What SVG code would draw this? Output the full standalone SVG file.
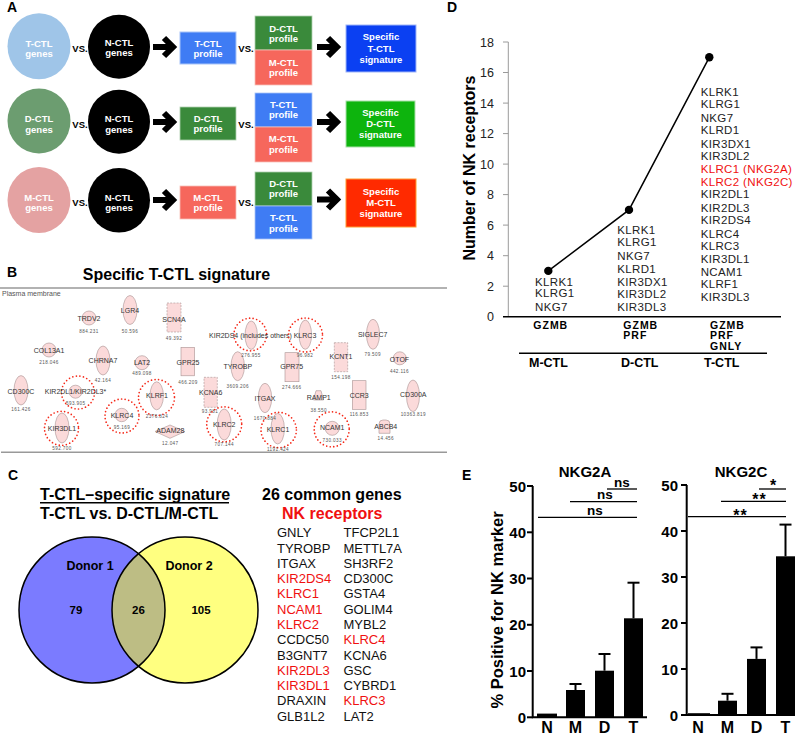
<svg xmlns="http://www.w3.org/2000/svg" width="800" height="737" viewBox="0 0 800 737">
<style>
text{font-family:"Liberation Sans",Arial,sans-serif}
.pl{font-weight:bold;font-size:14px;fill:#000}
.wt{fill:#fff;font-weight:bold;font-size:9.5px;text-anchor:middle}
.vs{font-weight:bold;font-size:9.5px;text-anchor:middle;fill:#000}
.arr{fill:none;stroke:#000;stroke-width:6;stroke-linejoin:miter}
.nd{fill:#fbdada;stroke:#a89292;stroke-width:0.6}
.ndd{fill:#fbdada;stroke:#a89292;stroke-width:0.6;stroke-dasharray:2 1.2}
.ring{fill:none;stroke:#f52a1a;stroke-width:1.7;stroke-dasharray:0 3.6;stroke-linecap:round}
.nl{font-size:7px;fill:#333;text-anchor:middle}
.nv{font-size:4.6px;fill:#555;text-anchor:middle;letter-spacing:0.4px}
.gl{font-size:13px;fill:#111}
.dg{font-size:11.5px;fill:#222;letter-spacing:0.35px}
.dt{font-size:12.5px;fill:#222;text-anchor:end}
.db{font-size:10.5px;font-weight:bold;fill:#000;letter-spacing:1px}
.dc{font-size:12.5px;font-weight:bold;fill:#000}
.et{font-size:15px;font-weight:bold;fill:#000;text-anchor:end}
.ex{font-size:16px;font-weight:bold;fill:#000;text-anchor:middle}
.ax{stroke:#000;stroke-width:2;fill:none}
.bar{fill:#000}
.sig{stroke:#000;stroke-width:1.3}
.st{font-size:13.5px;font-weight:bold;text-anchor:middle;fill:#000}
text.red{fill:#f01010}
</style>
<defs>
<clipPath id="clipL"><circle cx="92" cy="610" r="73"/></clipPath>
</defs>

<!-- Panel labels -->
<text class="pl" x="7" y="11.7">A</text>
<text class="pl" x="447" y="11.7">D</text>
<text class="pl" x="7" y="277">B</text>
<text class="pl" x="8" y="480">C</text>
<text class="pl" x="462" y="480">E</text>

<!-- ================= Panel A ================= -->
<g id="a-row1">
<g id="a1-tctl-genes"><ellipse cx="39" cy="46.3" rx="31.5" ry="33" fill="#9fc5e8"/><text class="wt" x="39" y="46.5">T-CTL</text><text class="wt" x="39" y="57">genes</text></g>
<g id="a1-nctl-genes"><ellipse cx="119" cy="46.7" rx="31" ry="32" fill="#000"/><text class="wt" x="119" y="45.5">N-CTL</text><text class="wt" x="119" y="56">genes</text></g>
<g id="a1-tctl-profile"><rect x="180" y="32" width="56" height="32" fill="#3f7cf4" stroke="#a8c4f8" stroke-width="1"/><text class="wt" x="208" y="46.7">T-CTL</text><text class="wt" x="208" y="57">profile</text></g>
<g id="a1-dctl-profile"><rect x="255" y="16" width="57" height="34" fill="#3a8a3b" stroke="#b0d0b0" stroke-width="0.8"/><text class="wt" x="283.5" y="31.7">D-CTL</text><text class="wt" x="283.5" y="41.7">profile</text></g>
<g id="a1-mctl-profile"><rect x="255" y="50" width="57" height="35" fill="#f6675c" stroke="#f8c0b8" stroke-width="0.8"/><text class="wt" x="283.5" y="65.7">M-CTL</text><text class="wt" x="283.5" y="76">profile</text></g>
<g id="a1-specific"><rect x="346" y="25" width="70" height="47" fill="#0b40f2" stroke="#a0b5f8" stroke-width="1"/><text class="wt" x="381" y="40">Specific</text><text class="wt" x="381" y="51.7">T-CTL</text><text class="wt" x="381" y="62.7">signature</text></g>
</g>

<g id="a-row2">
<g id="a2-dctl-genes"><ellipse cx="39" cy="121" rx="31.5" ry="32.5" fill="#6c9d70"/><text class="wt" x="39" y="122">D-CTL</text><text class="wt" x="39" y="132.7">genes</text></g>
<g id="a2-nctl-genes"><ellipse cx="119" cy="121.7" rx="31" ry="32" fill="#000"/><text class="wt" x="119" y="122">N-CTL</text><text class="wt" x="119" y="132.7">genes</text></g>
<g id="a2-dctl-profile"><rect x="180" y="107" width="56" height="33" fill="#3a8a3b" stroke="#b0d0b0" stroke-width="0.8"/><text class="wt" x="208" y="122">D-CTL</text><text class="wt" x="208" y="132.3">profile</text></g>
<g id="a2-tctl-profile"><rect x="255" y="93" width="57" height="34" fill="#3f7cf4" stroke="#a8c4f8" stroke-width="0.8"/><text class="wt" x="283.5" y="108.3">T-CTL</text><text class="wt" x="283.5" y="118.3">profile</text></g>
<g id="a2-mctl-profile"><rect x="255" y="127" width="57" height="35" fill="#f6675c" stroke="#f8c0b8" stroke-width="0.8"/><text class="wt" x="283.5" y="141.7">M-CTL</text><text class="wt" x="283.5" y="152.7">profile</text></g>
<g id="a2-specific"><rect x="346" y="101" width="69" height="46" fill="#0db40d" stroke="#a8e0a8" stroke-width="1"/><text class="wt" x="380.5" y="115.7">Specific</text><text class="wt" x="380.5" y="126.7">D-CTL</text><text class="wt" x="380.5" y="137.7">signature</text></g>
</g>

<g id="a-row3">
<g id="a3-mctl-genes"><ellipse cx="39" cy="200" rx="31.5" ry="33" fill="#e4a2a2"/><text class="wt" x="39" y="200.7">M-CTL</text><text class="wt" x="39" y="211">genes</text></g>
<g id="a3-nctl-genes"><ellipse cx="119" cy="200.3" rx="31" ry="32.3" fill="#000"/><text class="wt" x="119" y="200.7">N-CTL</text><text class="wt" x="119" y="211">genes</text></g>
<g id="a3-mctl-profile"><rect x="180" y="186" width="56" height="33" fill="#f6675c" stroke="#f8c0b8" stroke-width="0.8"/><text class="wt" x="208" y="200.7">M-CTL</text><text class="wt" x="208" y="211">profile</text></g>
<g id="a3-dctl-profile"><rect x="255" y="172" width="57" height="34" fill="#3a8a3b" stroke="#b0d0b0" stroke-width="0.8"/><text class="wt" x="283.5" y="187">D-CTL</text><text class="wt" x="283.5" y="197.3">profile</text></g>
<g id="a3-tctl-profile"><rect x="255" y="206" width="57" height="33" fill="#3f7cf4" stroke="#a8c4f8" stroke-width="0.8"/><text class="wt" x="283.5" y="221">T-CTL</text><text class="wt" x="283.5" y="231.7">profile</text></g>
<g id="a3-specific"><rect x="346" y="179" width="70" height="48" fill="#ff2a00" stroke="#ff9a30" stroke-width="1"/><text class="wt" x="381" y="194.7">Specific</text><text class="wt" x="381" y="206">M-CTL</text><text class="wt" x="381" y="216.7">signature</text></g>
</g>

<g id="a-connectors">
<path class="arr" d="M153,47 H172 M164,38 L173,47 L164,56"/>
<path class="arr" d="M317,47 H336 M328,38 L337,47 L328,56"/>
<path class="arr" d="M153,122 H172 M164,113 L173,122 L164,131"/>
<path class="arr" d="M317,122 H336 M328,113 L337,122 L328,131"/>
<path class="arr" d="M153,200 H172 M164,191 L173,200 L164,209"/>
<path class="arr" d="M317,199.5 H336 M328,190.5 L337,199.5 L328,208.5"/>
<text class="vs" x="80" y="52">VS.</text>
<text class="vs" x="246" y="52">VS.</text>
<text class="vs" x="80" y="127.5">VS.</text>
<text class="vs" x="246" y="127.5">VS.</text>
<text class="vs" x="80" y="205.5">VS.</text>
<text class="vs" x="246" y="205.5">VS.</text>
</g>

<!-- ================= Panel B ================= -->
<g id="b-frame">
<text x="176.5" y="279.5" font-size="16" font-weight="bold" text-anchor="middle">Specific T-CTL signature</text>
<line x1="0" y1="288" x2="447" y2="288" stroke="#999" stroke-width="1.5"/>
<line x1="1" y1="452.3" x2="447" y2="452.3" stroke="#999" stroke-width="1.5"/>
<text x="2" y="296" font-size="7" fill="#555">Plasma membrane</text>
</g>

<g id="b-TRDV2"><circle class="nd" cx="89" cy="318" r="7"/><text class="nl" x="89" y="320.5">TRDV2</text><text class="nv" x="89" y="333">884.231</text></g>
<g id="b-LGR4"><ellipse class="nd" cx="130" cy="310" rx="7" ry="14.5"/><text class="nl" x="130" y="312.5">LGR4</text><text class="nv" x="130" y="332.5">50.596</text></g>
<g id="b-SCN4A"><rect class="ndd" x="167" y="303" width="14" height="29"/><text class="nl" x="174" y="321.5">SCN4A</text><text class="nv" x="174" y="340">49.392</text></g>
<g id="b-COL13A1"><circle class="nd" cx="49" cy="350" r="7"/><text class="nl" x="49" y="352.5">COL13A1</text><text class="nv" x="49" y="364">218.046</text></g>
<g id="b-CHRNA7"><ellipse class="nd" cx="103" cy="360.5" rx="7" ry="14.5"/><text class="nl" x="103" y="363">CHRNA7</text><text class="nv" x="103" y="382">42.164</text></g>
<g id="b-LAT2"><circle class="nd" cx="142" cy="362.7" r="7"/><text class="nl" x="142" y="365.2">LAT2</text><text class="nv" x="142" y="375">489.098</text></g>
<g id="b-GPR25"><rect class="nd" x="181" y="347.3" width="13.5" height="28.5"/><text class="nl" x="188" y="364.5">GPR25</text><text class="nv" x="188" y="383.5">466.209</text></g>
<g id="b-CD300C"><ellipse class="nd" cx="21" cy="390.3" rx="7" ry="14.7"/><text class="nl" x="21" y="393.5">CD300C</text><text class="nv" x="21" y="411">161.426</text></g>
<g id="b-KIR2DL1"><circle class="nd" cx="75.5" cy="391.7" r="6.5"/><circle class="ring" cx="78" cy="392.5" r="16.5"/><text class="nl" x="75.5" y="394.2">KIR2DL1/KIR2DL3*</text><text class="nv" x="75.7" y="405">593.905</text></g>
<g id="b-KLRF1"><ellipse class="nd" cx="156.7" cy="395.8" rx="6.7" ry="14"/><circle class="ring" cx="156.5" cy="397.5" r="18"/><text class="nl" x="157" y="398.2">KLRF1</text><text class="nv" x="157" y="417.5">2376.824</text></g>
<g id="b-KLRC4"><circle class="nd" cx="121.7" cy="415" r="6.7"/><circle class="ring" cx="122" cy="416" r="17"/><text class="nl" x="122" y="417.5">KLRC4</text><text class="nv" x="122" y="428.5">95.169</text></g>
<g id="b-KCNA6"><rect class="ndd" x="204" y="377.3" width="13.3" height="30"/><text class="nl" x="210.7" y="394.8">KCNA6</text><text class="nv" x="210" y="412.5">93.981</text></g>
<g id="b-KIR3DL1"><ellipse class="nd" cx="62" cy="428" rx="7" ry="15"/><circle class="ring" cx="61.5" cy="428.3" r="17"/><text class="nl" x="62" y="430.8">KIR3DL1</text><text class="nv" x="62" y="450">592.700</text></g>
<g id="b-ADAM28"><polygon class="nd" points="155,431.5 170,425 185,431.5 170,438.3"/><text class="nl" x="170.3" y="433.2">ADAM28</text><text class="nv" x="170.3" y="444.5">12.047</text></g>
<g id="b-KLRC2"><ellipse class="nd" cx="224.2" cy="424.5" rx="7" ry="15.5"/><circle class="ring" cx="224.2" cy="424.3" r="17.5"/><text class="nl" x="224.2" y="426.8">KLRC2</text><text class="nv" x="224.2" y="446">707.144</text></g>
<g id="b-KLRC1"><ellipse class="nd" cx="277.7" cy="428.7" rx="6.7" ry="15.3"/><circle class="ring" cx="278.7" cy="430" r="17.7"/><text class="nl" x="278" y="431.8">KLRC1</text><text class="nv" x="278" y="451">1191.424</text></g>
<g id="b-NCAM1"><circle class="nd" cx="332.2" cy="428.3" r="7"/><circle class="ring" cx="331.7" cy="429.3" r="17.5"/><text class="nl" x="332.2" y="430.2">NCAM1</text><text class="nv" x="332.2" y="441.8">730.033</text></g>
<g id="b-ABCB4"><path class="nd" d="M379,433.3 V424 Q379,420 383,420 H386 Q390,420 390,424 V433.3 Z"/><text class="nl" x="385.8" y="428.5">ABCB4</text><text class="nv" x="385.8" y="440">14.456</text></g>
<g id="b-ITGAX"><ellipse class="nd" cx="265" cy="398" rx="6.7" ry="14.7"/><text class="nl" x="265" y="400.8">ITGAX</text><text class="nv" x="265" y="420">1670.884</text></g>
<g id="b-RAMP1"><polygon class="nd" points="313.5,400 316,390.7 321,390.7 323.5,400"/><text class="nl" x="318.7" y="400.2">RAMP1</text><text class="nv" x="318.7" y="411.8">38.550</text></g>
<g id="b-CCR3"><rect class="nd" x="352.3" y="380.7" width="13.7" height="28.6"/><text class="nl" x="359.2" y="397.5">CCR3</text><text class="nv" x="359.2" y="416">116.853</text></g>
<g id="b-CD300A"><ellipse class="nd" cx="413" cy="395.8" rx="6.5" ry="15.8"/><text class="nl" x="413.3" y="396.5">CD300A</text><text class="nv" x="413.3" y="415.8">10363.819</text></g>
<g id="b-SIGLEC7"><ellipse class="nd" cx="373" cy="334.3" rx="6.5" ry="15"/><text class="nl" x="372.7" y="336.5">SIGLEC7</text><text class="nv" x="372.7" y="355.8">79.509</text></g>
<g id="b-OTOF"><circle class="nd" cx="399.8" cy="358.3" r="6.5"/><text class="nl" x="399.5" y="361.5">OTOF</text><text class="nv" x="399.5" y="372.8">442.116</text></g>
<g id="b-KCNT1"><rect class="ndd" x="334.3" y="342.7" width="13.4" height="29"/><text class="nl" x="341" y="359.2">KCNT1</text><text class="nv" x="341" y="379">154.198</text></g>
<g id="b-GPR75"><rect class="nd" x="285" y="352.7" width="14" height="29"/><text class="nl" x="291.7" y="369.2">GPR75</text><text class="nv" x="291.7" y="389">274.666</text></g>
<g id="b-TYROBP"><ellipse class="nd" cx="237.7" cy="366.2" rx="6.7" ry="14.5"/><text class="nl" x="237.8" y="368.5">TYROBP</text><text class="nv" x="237.8" y="387.8">3609.206</text></g>
<g id="b-KIR2DS4"><ellipse class="nd" cx="251.2" cy="335.2" rx="6.2" ry="14.2"/><circle class="ring" cx="250.3" cy="334.5" r="16.3"/><text class="nl" x="250.5" y="337.5">KIR2DS4 (includes others)</text><text class="nv" x="251" y="356.8">276.955</text></g>
<g id="b-KLRC3"><ellipse class="nd" cx="305.3" cy="334.7" rx="6.3" ry="14.6"/><circle class="ring" cx="305.5" cy="335" r="17"/><text class="nl" x="305" y="337.5">KLRC3</text><text class="nv" x="305" y="356.8">96.982</text></g>

<!-- ================= Panel C ================= -->
<g id="c-titles">
<text x="40" y="500" font-size="16" font-weight="bold">T-CTL–specific signature</text>
<line x1="40" y1="502.7" x2="229" y2="502.7" stroke="#000" stroke-width="1.4"/>
<text x="40" y="519.3" font-size="16" font-weight="bold">T-CTL vs. D-CTL/M-CTL</text>
<text x="262" y="500" font-size="16" font-weight="bold">26 common genes</text>
<text x="282" y="519.3" font-size="16" font-weight="bold" fill="#f01010">NK receptors</text>
</g>
<g id="c-venn">
<circle cx="92" cy="610" r="73" fill="#7b7bff"/>
<circle cx="185" cy="610" r="73" fill="#ffff80"/>
<circle cx="185" cy="610" r="73" fill="#bdbd84" clip-path="url(#clipL)"/>
<circle cx="92" cy="610" r="73" fill="none" stroke="#000" stroke-width="1.5"/>
<circle cx="185" cy="610" r="73" fill="none" stroke="#000" stroke-width="1.5"/>
<text x="90" y="570" font-size="12.5" font-weight="bold" text-anchor="middle">Donor 1</text>
<text x="189" y="570" font-size="12.5" font-weight="bold" text-anchor="middle">Donor 2</text>
<text x="76" y="614" font-size="11.5" font-weight="bold" text-anchor="middle">79</text>
<text x="138.5" y="614" font-size="11.5" font-weight="bold" text-anchor="middle">26</text>
<text x="201" y="614" font-size="11.5" font-weight="bold" text-anchor="middle">105</text>
</g>
<g id="c-genes">
<text class="gl" x="277" y="537.3">GNLY</text>
<text class="gl" x="277" y="552.6">TYROBP</text>
<text class="gl" x="277" y="567.9">ITGAX</text>
<text class="gl red" x="277" y="583.1">KIR2DS4</text>
<text class="gl red" x="277" y="598.4">KLRC1</text>
<text class="gl red" x="277" y="613.7">NCAM1</text>
<text class="gl red" x="277" y="629">KLRC2</text>
<text class="gl" x="277" y="644.3">CCDC50</text>
<text class="gl" x="277" y="659.5">B3GNT7</text>
<text class="gl red" x="277" y="674.8">KIR2DL3</text>
<text class="gl red" x="277" y="690.1">KIR3DL1</text>
<text class="gl" x="277" y="705.4">DRAXIN</text>
<text class="gl" x="277" y="720.7">GLB1L2</text>
<text class="gl" x="343.5" y="537.3">TFCP2L1</text>
<text class="gl" x="343.5" y="552.6">METTL7A</text>
<text class="gl" x="343.5" y="567.9">SH3RF2</text>
<text class="gl" x="343.5" y="583.1">CD300C</text>
<text class="gl" x="343.5" y="598.4">GSTA4</text>
<text class="gl" x="343.5" y="613.7">GOLIM4</text>
<text class="gl" x="343.5" y="629">MYBL2</text>
<text class="gl red" x="343.5" y="644.3">KLRC4</text>
<text class="gl" x="343.5" y="659.5">KCNA6</text>
<text class="gl" x="343.5" y="674.8">GSC</text>
<text class="gl" x="343.5" y="690.1">CYBRD1</text>
<text class="gl red" x="343.5" y="705.4">KLRC3</text>
<text class="gl" x="343.5" y="720.7">LAT2</text>
</g>

<!-- ================= Panel D ================= -->
<g id="d-axes">
<line x1="508.3" y1="42" x2="508.3" y2="316.7" stroke="#9a9a9a" stroke-width="1"/>
<g stroke="#9a9a9a" stroke-width="1">
<line x1="503" y1="42" x2="508.3" y2="42"/><line x1="503" y1="72.5" x2="508.3" y2="72.5"/><line x1="503" y1="103.1" x2="508.3" y2="103.1"/><line x1="503" y1="133.6" x2="508.3" y2="133.6"/><line x1="503" y1="164.1" x2="508.3" y2="164.1"/><line x1="503" y1="194.6" x2="508.3" y2="194.6"/><line x1="503" y1="225.1" x2="508.3" y2="225.1"/><line x1="503" y1="255.7" x2="508.3" y2="255.7"/><line x1="503" y1="286.2" x2="508.3" y2="286.2"/>
</g>
<text class="dt" x="494" y="46.5">18</text>
<text class="dt" x="494" y="77">16</text>
<text class="dt" x="494" y="107.6">14</text>
<text class="dt" x="494" y="138.1">12</text>
<text class="dt" x="494" y="168.6">10</text>
<text class="dt" x="494" y="199.1">8</text>
<text class="dt" x="494" y="229.6">6</text>
<text class="dt" x="494" y="260.2">4</text>
<text class="dt" x="494" y="290.7">2</text>
<text class="dt" x="494" y="321.2">0</text>
<line x1="503" y1="316.7" x2="781" y2="316.7" stroke="#000" stroke-width="1.5"/>
<line x1="519" y1="353.3" x2="767" y2="353.3" stroke="#000" stroke-width="1.5"/>
<text transform="translate(475,168) rotate(-90)" font-size="16" font-weight="bold" text-anchor="middle">Number of NK receptors</text>
</g>
<g id="d-line">
<polyline points="548.3,270.9 629,209.9 709.3,57.3" fill="none" stroke="#000" stroke-width="1.5"/>
<circle cx="548.3" cy="270.9" r="4.2" fill="#000"/>
<circle cx="629" cy="209.9" r="4.2" fill="#000"/>
<circle cx="709.3" cy="57.3" r="4.2" fill="#000"/>
</g>
<g id="d-mctl">
<text class="dg" x="535" y="285.7">KLRK1</text>
<text class="dg" x="535" y="297.2">KLRG1</text>
<text class="dg" x="535" y="310.7">NKG7</text>
<text class="db" x="533.3" y="328.5">GZMB</text>
<text class="dc" x="529" y="367">M-CTL</text>
</g>
<g id="d-dctl">
<text class="dg" x="617.3" y="234">KLRK1</text>
<text class="dg" x="617.3" y="245.5">KLRG1</text>
<text class="dg" x="617.3" y="260">NKG7</text>
<text class="dg" x="617.3" y="272.7">KLRD1</text>
<text class="dg" x="617.3" y="285.7">KIR3DX1</text>
<text class="dg" x="617.3" y="298.3">KIR3DL2</text>
<text class="dg" x="617.3" y="310.7">KIR3DL3</text>
<text class="db" x="623.3" y="328.5">GZMB</text>
<text class="db" x="623.3" y="339.2">PRF</text>
<text class="dc" x="621" y="367">D-CTL</text>
</g>
<g id="d-tctl">
<text class="dg" x="700.7" y="96">KLRK1</text>
<text class="dg" x="700.7" y="107.5">KLRG1</text>
<text class="dg" x="700.7" y="121.7">NKG7</text>
<text class="dg" x="700.7" y="134.3">KLRD1</text>
<text class="dg" x="700.7" y="147.7">KIR3DX1</text>
<text class="dg" x="700.7" y="160">KIR3DL2</text>
<text class="dg red" x="700.7" y="173.3">KLRC1 (NKG2A)</text>
<text class="dg red" x="700.7" y="186">KLRC2 (NKG2C)</text>
<text class="dg" x="700.7" y="198">KIR2DL1</text>
<text class="dg" x="700.7" y="211.7">KIR2DL3</text>
<text class="dg" x="700.7" y="224.3">KIR2DS4</text>
<text class="dg" x="700.7" y="237.7">KLRC4</text>
<text class="dg" x="700.7" y="250">KLRC3</text>
<text class="dg" x="700.7" y="262.7">KIR3DL1</text>
<text class="dg" x="700.7" y="276">NCAM1</text>
<text class="dg" x="700.7" y="288.3">KLRF1</text>
<text class="dg" x="700.7" y="301">KIR3DL3</text>
<text class="db" x="710" y="328.5">GZMB</text>
<text class="db" x="710" y="339.2">PRF</text>
<text class="db" x="710" y="350">GNLY</text>
<text class="dc" x="704" y="367">T-CTL</text>
</g>

<!-- ================= Panel E ================= -->
<g id="e-ytitle">
<text transform="translate(503,610) rotate(-90)" font-size="16.5" font-weight="bold" text-anchor="middle">% Positive for NK marker</text>
</g>
<g id="e-nkg2a">
<text x="585" y="477" font-size="15" font-weight="bold" text-anchor="middle">NKG2A</text>
<path class="ax" d="M532.7,486 V717.3 H647"/>
<g stroke="#000" stroke-width="2">
<line x1="527" y1="486" x2="533" y2="486"/><line x1="527" y1="532.3" x2="533" y2="532.3"/><line x1="527" y1="578.5" x2="533" y2="578.5"/><line x1="527" y1="624.8" x2="533" y2="624.8"/><line x1="527" y1="671" x2="533" y2="671"/><line x1="527" y1="717.3" x2="533" y2="717.3"/>
</g>
<text class="et" x="526" y="491.5">50</text>
<text class="et" x="526" y="537.8">40</text>
<text class="et" x="526" y="584">30</text>
<text class="et" x="526" y="630.3">20</text>
<text class="et" x="526" y="676.5">10</text>
<text class="et" x="526" y="722.8">0</text>
<rect class="bar" x="537" y="713.6" width="20" height="3.7"/>
<rect class="bar" x="566" y="690" width="19" height="27.3"/>
<rect class="bar" x="595" y="670.7" width="19" height="46.6"/>
<rect class="bar" x="624" y="618.3" width="19" height="99"/>
<g stroke="#000" stroke-width="2">
<line x1="575.5" y1="690" x2="575.5" y2="684"/><line x1="569.5" y1="684" x2="581.5" y2="684"/>
<line x1="604.5" y1="670.7" x2="604.5" y2="654"/><line x1="598.5" y1="654" x2="610.5" y2="654"/>
<line x1="633.5" y1="618.3" x2="633.5" y2="582.7"/><line x1="627.5" y1="582.7" x2="639.5" y2="582.7"/>
</g>
<text class="ex" x="547" y="733">N</text>
<text class="ex" x="575.5" y="733">M</text>
<text class="ex" x="604.5" y="733">D</text>
<text class="ex" x="633.5" y="733">T</text>
</g>
<g id="e-nkg2a-sig">
<line class="sig" x1="607" y1="489" x2="637" y2="489"/>
<text class="st" x="622" y="486.5">ns</text>
<line class="sig" x1="570" y1="501.7" x2="637" y2="501.7"/>
<text class="st" x="605" y="499">ns</text>
<line class="sig" x1="538" y1="517.3" x2="637" y2="517.3"/>
<text class="st" x="595" y="515">ns</text>
</g>
<g id="e-nkg2c">
<text x="741" y="477" font-size="15" font-weight="bold" text-anchor="middle">NKG2C</text>
<path class="ax" d="M686.7,485 V715 H795"/>
<g stroke="#000" stroke-width="2">
<line x1="681" y1="485" x2="687" y2="485"/><line x1="681" y1="531" x2="687" y2="531"/><line x1="681" y1="577" x2="687" y2="577"/><line x1="681" y1="623" x2="687" y2="623"/><line x1="681" y1="669" x2="687" y2="669"/><line x1="681" y1="715" x2="687" y2="715"/>
</g>
<text class="et" x="678" y="490.5">50</text>
<text class="et" x="678" y="536.5">40</text>
<text class="et" x="678" y="582.5">30</text>
<text class="et" x="678" y="628.5">20</text>
<text class="et" x="678" y="674.5">10</text>
<text class="et" x="678" y="720.5">0</text>
<rect class="bar" x="688" y="713.2" width="22" height="1.8"/>
<rect class="bar" x="718" y="700.7" width="19" height="14.3"/>
<rect class="bar" x="747" y="658.9" width="19" height="56.1"/>
<rect class="bar" x="776" y="556.3" width="19" height="158.7"/>
<g stroke="#000" stroke-width="2">
<line x1="727.5" y1="700.7" x2="727.5" y2="693.8"/><line x1="721.5" y1="693.8" x2="733.5" y2="693.8"/>
<line x1="756.5" y1="658.9" x2="756.5" y2="647.4"/><line x1="750.5" y1="647.4" x2="762.5" y2="647.4"/>
<line x1="785.5" y1="556.3" x2="785.5" y2="524.6"/><line x1="779.5" y1="524.6" x2="791.5" y2="524.6"/>
</g>
<text class="ex" x="698" y="733">N</text>
<text class="ex" x="727.5" y="733">M</text>
<text class="ex" x="756.5" y="733">D</text>
<text class="ex" x="785.5" y="733">T</text>
</g>
<g id="e-nkg2c-sig">
<line class="sig" x1="759" y1="489" x2="786" y2="489"/>
<text x="773" y="491" font-size="16" font-weight="bold" text-anchor="middle">*</text>
<line class="sig" x1="721" y1="501.3" x2="786" y2="501.3"/>
<text x="759.5" y="505" font-size="16" font-weight="bold" text-anchor="middle" letter-spacing="1">**</text>
<line class="sig" x1="688" y1="516.7" x2="786" y2="516.7"/>
<text x="740.5" y="521" font-size="16" font-weight="bold" text-anchor="middle" letter-spacing="1">**</text>
</g>
</svg>
